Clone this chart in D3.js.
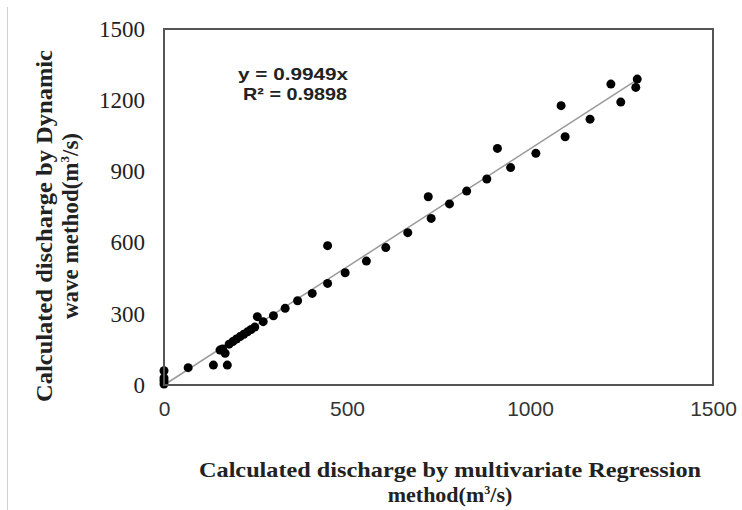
<!DOCTYPE html>
<html>
<head>
<meta charset="utf-8">
<script src="https://cdn.jsdelivr.net/npm/d3@7"></script>
<style>
  body { margin: 0; background: #fff; }
  svg { display: block; }
</style>
</head>
<body>
<script>
// values
var xValues = [0, 0, 0, 0, 66, 135, 173, 153, 167, 160, 178, 188, 198, 208, 218, 228, 238, 248, 255, 271,
    299, 331, 365, 405, 447, 447, 495, 553, 606, 666, 730, 722, 780, 827, 882, 911, 947, 1016,
    1085, 1096, 1164, 1221, 1248, 1289, 1293];
var yValues = [4, 18, 30, 60, 73, 84, 84, 147, 134, 152, 172, 183, 194, 204, 214, 224, 234, 244, 288, 267,
    292, 323, 355, 386, 428, 587, 473, 522, 579, 642, 702, 793, 763, 817, 868, 997, 916, 976,
    1177, 1046, 1120, 1268, 1192, 1254, 1289];
var xTicks = [0, 500, 1000, 1500];
var yTicks = [0, 300, 600, 900, 1200, 1500];
var slope = 0.9949;
var trendEnd = 1290;

var width = 742, height = 510;
var svg = d3.select("body").append("svg")
    .attr("width", width)
    .attr("height", height);

var x = d3.scaleLinear().domain([0, 1500]).range([164, 713]);
var y = d3.scaleLinear().domain([0, 1500]).range([385, 29]);
var fmt = d3.format("d");

// faint outer frame edge
svg.append("line")
    .attr("x1", 7.5).attr("x2", 7.5)
    .attr("y1", 7).attr("y2", height)
    .attr("stroke", "#cfcfcf").attr("stroke-width", 1);

// y axis labels
var yAxis = svg.append("g")
    .attr("transform", "translate(145,0)")
    .call(d3.axisLeft(y).tickValues(yTicks).tickFormat(fmt).tickSize(0).tickPadding(0));
yAxis.select(".domain").remove();
yAxis.selectAll("text")
    .attr("font-family", "'Liberation Serif', 'Times New Roman', serif")
    .attr("font-size", 23)
    .attr("fill", "#222");

// x axis labels
var xAxis = svg.append("g")
    .attr("transform", "translate(0,401)")
    .call(d3.axisBottom(x).tickValues(xTicks).tickFormat(fmt).tickSize(0).tickPadding(0));
xAxis.select(".domain").remove();
xAxis.selectAll("text")
    .attr("font-family", "'Liberation Sans', Arial, sans-serif")
    .attr("font-size", 21)
    .attr("fill", "#333");

// trend line
svg.append("line")
    .attr("x1", x(0)).attr("y1", y(0))
    .attr("x2", x(trendEnd)).attr("y2", y(slope * trendEnd))
    .attr("stroke", "#9a9a9a").attr("stroke-width", 1.5);

// points
svg.append("g")
    .selectAll("circle")
    .data(xValues)
    .enter()
    .append("circle")
    .attr("cx", function (d) { return x(d); })
    .attr("cy", function (d, i) { return y(yValues[i]); })
    .attr("r", 4.5)
    .attr("fill", "#000");

// plot box
svg.append("rect")
    .attr("x", x(0)).attr("y", y(1500))
    .attr("width", x(1500) - x(0))
    .attr("height", y(0) - y(1500))
    .attr("fill", "none")
    .attr("stroke", "#555")
    .attr("stroke-width", 2);

// equation
var eq = svg.append("g")
    .attr("font-family", "'Liberation Sans', Arial, sans-serif")
    .attr("font-weight", "bold")
    .attr("font-size", 17)
    .attr("fill", "#222")
    .attr("lengthAdjust", "spacingAndGlyphs");
eq.append("text").attr("x", 238).attr("y", 80)
    .attr("textLength", 110).attr("lengthAdjust", "spacingAndGlyphs")
    .text("y = 0.9949x");
eq.append("text").attr("x", 243).attr("y", 100)
    .attr("textLength", 104).attr("lengthAdjust", "spacingAndGlyphs")
    .text("R² = 0.9898");

// axis titles
var serif = "'Liberation Serif', 'Times New Roman', serif";

var xt = svg.append("g")
    .attr("font-family", serif)
    .attr("font-weight", "bold")
    .attr("font-size", 22)
    .attr("fill", "#222")
    .attr("text-anchor", "middle");
xt.append("text").attr("x", 450).attr("y", 477)
    .attr("textLength", 502).attr("lengthAdjust", "spacingAndGlyphs")
    .text("Calculated discharge by multivariate Regression");
var xt2 = xt.append("text").attr("x", 450).attr("y", 502);
xt2.append("tspan").text("method(m");
xt2.append("tspan").attr("dy", -8).attr("font-size", 12).text("3");
xt2.append("tspan").attr("dy", 8).text("/s)");

var yt = svg.append("g")
    .attr("font-family", serif)
    .attr("font-weight", "bold")
    .attr("font-size", 23)
    .attr("fill", "#222")
    .attr("text-anchor", "middle")
    .attr("transform", "translate(0,226) rotate(-90)");
yt.append("text").attr("x", 0).attr("y", 52)
    .attr("textLength", 352).attr("lengthAdjust", "spacingAndGlyphs")
    .text("Calculated discharge by Dynamic");
var yt2 = yt.append("text").attr("x", 0).attr("y", 78);
yt2.append("tspan").text("wave method(m");
yt2.append("tspan").attr("dy", -9).attr("font-size", 13).text("3");
yt2.append("tspan").attr("dy", 9).text("/s)");
</script>
</body>
</html>
